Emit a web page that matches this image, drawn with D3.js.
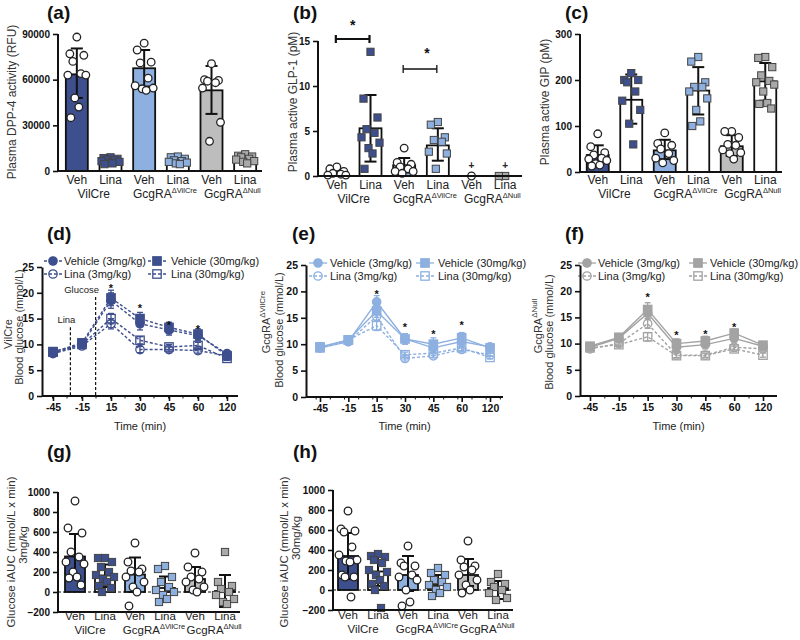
<!DOCTYPE html>
<html>
<head>
<meta charset="utf-8">
<script src="https://cdn.jsdelivr.net/npm/d3@7"></script>
<style>
body { margin: 0; background: #fff; }
text { font-family: Arial, "Liberation Sans", sans-serif; fill: #222; }
</style>
</head>
<body>
<script>
// ---- shared categories ----
var catLabels = ["Veh", "Lina", "Veh", "Lina", "Veh", "Lina"];
var groupBase = ["VilCre", "GcgRA", "GcgRA"];
var groupSup = ["", "\u0394VilCre", "\u0394Null"];
var groupColors = ["#3e4f8e", "#8db0e0", "#bdbdbd"];
var timeLabels = ["-45", "-15", "15", "30", "45", "60", "120"];

// ---- (a) DPP-4 activity ----
var aMeans = [63500, 6500, 67500, 6500, 53000, 7500];
var aLow = [48000, 4500, 55500, 4500, 37500, 5500];
var aHigh = [80500, 8500, 79500, 8500, 69000, 9500];
var aPoints = [
  [88000, 77000, 76000, 72000, 64000, 63000, 63000, 48000, 42000, 35000],
  [9000, 8500, 8000, 7500, 7000, 6500, 6000, 5500, 5000, 4500],
  [84000, 79500, 71500, 71000, 61000, 56000, 54500, 54000, 53000],
  [9500, 9000, 8000, 7000, 6500, 6000, 5500, 5000, 4500],
  [70500, 60000, 59500, 59000, 58000, 54500, 32000, 19500],
  [11000, 10000, 9500, 9000, 8000, 7500, 6500, 6000, 5000]
];

// ---- (b) active GLP-1 ----
var bMeans = [0.4, 5.3, 1.2, 3.4, 0, 0];
var bLow = [0.1, 1.6, 0.4, 1.7, 0, 0];
var bHigh = [0.8, 9.0, 2.0, 5.3, 0, 0];
var bPoints = [
  [1.0, 0.8, 0.5, 0.3, 0.2, 0.1, 0.1],
  [13.8, 8.6, 6.5, 5.2, 4.8, 4.3, 3.7, 3.1, 2.5, 0.8],
  [3.1, 1.5, 1.3, 1.0, 0.8, 0.5, 0.5, 0.3],
  [6.0, 5.7, 4.3, 4.0, 3.8, 2.7, 2.5, 0.8],
  [0],
  [0, 0]
];

// ---- (c) active GIP ----
var cMeans = [37, 157, 47, 177, 56, 197];
var cLow = [18, 105, 28, 125, 35, 155];
var cHigh = [58, 212, 70, 228, 80, 237];
var cPoints = [
  [83, 55, 42, 37, 30, 28, 25, 18, 15, 13],
  [215, 200, 200, 195, 175, 155, 135, 105, 60],
  [85, 62, 58, 50, 40, 30, 25, 20],
  [250, 240, 195, 185, 185, 175, 160, 135, 110, 100],
  [88, 88, 75, 60, 58, 48, 42, 40, 28],
  [250, 248, 228, 210, 198, 195, 190, 175, 150, 148, 138]
];

// ---- (d) VilCre glucose ----
var dVeh3 = [8.3, 10.0, 18.5, 14.0, 12.8, 11.7, 8.2];
var dVeh3Err = [0.5, 0.6, 1.5, 1.2, 1.0, 0.9, 0.5];
var dVeh30 = [8.5, 10.3, 19.0, 15.0, 13.3, 12.0, 7.8];
var dVeh30Err = [0.5, 0.6, 1.5, 1.2, 1.0, 1.0, 0.5];
var dLina3 = [8.2, 9.7, 14.0, 9.0, 9.0, 8.8, 7.8];
var dLina3Err = [0.4, 0.5, 1.0, 0.6, 0.5, 0.5, 0.4];
var dLina30 = [8.6, 10.0, 15.0, 10.8, 9.5, 9.8, 7.3];
var dLina30Err = [0.4, 0.5, 1.0, 0.7, 0.5, 0.6, 0.4];
var dStars = [21.4, 17.4, 14.2, 13.4];

// ---- (e) GcgRA dVilCre glucose ----
var eVeh3 = [9.3, 10.5, 18.0, 11.0, 9.3, 10.5, 9.5];
var eVeh3Err = [0.4, 0.5, 1.2, 1.0, 0.9, 0.9, 0.4];
var eVeh30 = [9.5, 10.8, 16.3, 11.0, 10.0, 11.2, 9.3];
var eVeh30Err = [0.4, 0.5, 1.2, 1.0, 1.2, 1.0, 0.4];
var eLina3 = [9.3, 10.5, 15.3, 7.3, 7.8, 9.0, 8.0];
var eLina3Err = [0.3, 0.4, 0.8, 0.5, 0.4, 0.4, 0.3];
var eLina30 = [9.3, 10.8, 13.5, 8.0, 8.3, 9.3, 7.5];
var eLina30Err = [0.3, 0.4, 0.9, 0.5, 0.4, 0.5, 0.3];
var eStars = [19.8, 13.6, 12.4, 14.0];

// ---- (f) GcgRA dNull glucose ----
var fVeh3 = [9.3, 11.0, 15.8, 9.3, 9.8, 11.0, 9.5];
var fVeh3Err = [0.4, 0.5, 1.0, 0.8, 0.8, 0.7, 0.4];
var fVeh30 = [9.5, 11.2, 16.5, 10.0, 10.5, 12.0, 9.7];
var fVeh30Err = [0.4, 0.5, 1.3, 0.9, 0.9, 0.8, 0.4];
var fLina3 = [9.0, 10.0, 13.8, 7.8, 7.8, 9.3, 9.0];
var fLina3Err = [0.3, 0.4, 0.9, 0.5, 0.4, 0.5, 0.4];
var fLina30 = [9.2, 9.8, 11.3, 7.7, 7.7, 9.0, 7.8];
var fLina30Err = [0.3, 0.4, 0.8, 0.4, 0.4, 0.5, 0.4];
var fStars = [19.3, 12.0, 12.3, 13.6];

// ---- (g) iAUC 3mg/kg ----
var gMeans = [355, 165, 175, 40, 130, 10];
var gLow = [140, 50, 0, -60, 10, -150];
var gHigh = [580, 275, 345, 155, 250, 170];
var gPoints = [
  [910, 640, 590, 400, 350, 300, 280, 200, 150, 140, 70],
  [340, 340, 300, 250, 200, 170, 150, 130, 100, 60, 40, 0],
  [490, 300, 230, 210, 200, 150, 100, 50, 0, -140],
  [260, 230, 150, 100, 50, 20, 0, -30, -70, -100],
  [390, 250, 200, 150, 130, 100, 50, 20, 0],
  [400, 100, 60, 30, 0, -30, -70, -100, -120]
];

// ---- (h) iAUC 30mg/kg ----
var hMeans = [340, 185, 150, 50, 150, 20];
var hLow = [110, 40, -10, -40, 40, -90];
var hHigh = [570, 330, 340, 150, 310, 90];
var hPoints = [
  [790, 610, 590, 580, 430, 350, 300, 290, 280, 150, 130, 130, -70],
  [360, 340, 330, 300, 270, 200, 180, 150, 100, 60, 40, 0, -180],
  [440, 270, 240, 240, 150, 130, 100, 0, -120, -160],
  [220, 170, 150, 100, 80, 50, 30, 0, -30, -60],
  [490, 300, 240, 230, 200, 150, 100, 50, 0, -30],
  [160, 80, 60, 30, 0, -30, -80, -100]
];

var jitter = [0, -7, 7, -4, 4, -9, 9, -2, 2, -6, 6, -3, 3];

var svg = d3.select("body").append("svg")
    .attr("width", 800)
    .attr("height", 640);

function panelLabel(txt, x, y) {
  svg.append("text").attr("x", x).attr("y", y)
      .attr("font-size", 19).attr("font-weight", "bold")
      .style("fill", "#111").text(txt);
}

function rotTitle(x, y, txt, sup, size) {
  var t = svg.append("text")
      .attr("transform", "translate(" + x + "," + y + ") rotate(-90)")
      .attr("text-anchor", "middle")
      .attr("font-size", size || 12)
      .style("fill", "#333");
  t.append("tspan").text(txt);
  if (sup) t.append("tspan").attr("font-size", 8).attr("dy", -5).text(sup);
}

function styleAxis(ax, size) {
  ax.select(".domain").attr("stroke", "#111").attr("stroke-width", 2);
  ax.selectAll(".tick line").attr("stroke", "#111").attr("stroke-width", 1.6);
  ax.selectAll(".tick text").attr("font-size", size || 10).attr("font-weight", "bold")
      .style("fill", "#111").attr("font-family", "Arial, 'Liberation Sans', sans-serif");
}

/**
 * Bar chart with scatter points and SD error bars.
 */
function drawBarPanel(p) {
  var g = svg.append("g");
  var x = d3.scaleBand().domain(d3.range(6)).range([p.x0, p.x1]);
  var y = d3.scaleLinear().domain(p.domain).range([p.yBot, p.yTop]);
  var cx = function(i) { return x(i) + x.bandwidth() / 2; };
  var base = y(0);
  var bw = p.barW;

  // bars (empty groups get no outline)
  g.selectAll(".bar").data(p.means).enter()
      .append("rect")
      .attr("x", function(d, i) { return cx(i) - bw / 2; })
      .attr("y", function(d) { return Math.min(y(d), base); })
      .attr("width", bw)
      .attr("height", function(d) { return Math.abs(base - y(d)); })
      .attr("fill", function(d, i) { return i % 2 == 0 ? groupColors[i >> 1] : "#fff"; })
      .attr("stroke", function(d) { return d === 0 ? "none" : "#111"; })
      .attr("stroke-width", 1.8);

  // zero reference line (iAUC panels)
  if (p.zeroDash) {
    g.append("line")
        .attr("x1", p.axisX).attr("x2", p.x1)
        .attr("y1", base).attr("y2", base)
        .attr("stroke", "#111").attr("stroke-width", 1)
        .attr("stroke-dasharray", "3,2");
  }

  // error bars
  for (var i = 0; i < 6; i++) {
    if (p.lo[i] == p.hi[i]) continue;
    var c = cx(i);
    g.append("line").attr("x1", c).attr("x2", c)
        .attr("y1", y(p.lo[i])).attr("y2", y(p.hi[i]))
        .attr("stroke", "#111").attr("stroke-width", 2);
    [p.lo[i], p.hi[i]].forEach(function(v) {
      g.append("line").attr("x1", c - 6).attr("x2", c + 6)
          .attr("y1", y(v)).attr("y2", y(v))
          .attr("stroke", "#111").attr("stroke-width", 2);
    });
  }

  // points
  p.points.forEach(function(vals, i) {
    var isVeh = i % 2 == 0;
    var pts = g.selectAll(".pt" + i).data(vals).enter();
    if (isVeh) {
      pts.append("circle")
          .attr("cx", function(d, j) { return cx(i) + jitter[j % jitter.length]; })
          .attr("cy", function(d) { return y(d); })
          .attr("r", 3.8)
          .attr("fill", "#fff").attr("stroke", "#222").attr("stroke-width", 1.3);
    } else {
      pts.append("rect")
          .attr("x", function(d, j) { return cx(i) + jitter[j % jitter.length] * (vals.length < 3 ? 0.9 : 1) - 3.6; })
          .attr("y", function(d) { return y(d) - 3.6; })
          .attr("width", 7.2).attr("height", 7.2)
          .attr("fill", i == 5 ? "#a9a9a9" : groupColors[i >> 1])
          .attr("stroke", "#444").attr("stroke-width", 1);
    }
  });

  // y axis
  var ay = svg.append("g").attr("transform", "translate(" + p.axisX + ",0)")
      .call(d3.axisLeft(y).tickValues(p.ticks).tickSize(5).tickSizeOuter(0).tickFormat(d3.format("d")));
  styleAxis(ay, 10);
  ay.select(".domain").attr("d", "M0," + y(p.domain[0]) + "V" + y(p.domain[1]));

  // x axis line
  var xl = p.zeroDash ? y(p.domain[0]) : base;
  g.append("line").attr("x1", p.axisX).attr("x2", p.x1)
      .attr("y1", xl).attr("y2", xl)
      .attr("stroke", "#111").attr("stroke-width", 2);

  // category labels
  catLabels.forEach(function(c, i) {
    g.append("text").attr("x", cx(i)).attr("y", p.catY)
        .attr("text-anchor", "middle").attr("font-size", p.catSize).text(c);
  });
  groupBase.forEach(function(b, k) {
    var t = g.append("text").attr("x", (cx(2 * k) + cx(2 * k + 1)) / 2 + (groupSup[k] ? 4 : 0))
        .attr("y", p.groupY)
        .attr("text-anchor", "middle").attr("font-size", p.catSize);
    t.append("tspan").text(b);
    if (groupSup[k]) t.append("tspan").attr("font-size", 7.5).attr("dy", -5).text(groupSup[k]);
  });

  return { x: cx, y: y };
}

/**
 * Glucose tolerance curves with 4 groups.
 */
function drawLinePanel(p) {
  var g = svg.append("g");
  var x = d3.scalePoint().domain(timeLabels).range([p.x0, p.x1]);
  var y = d3.scaleLinear().domain([0, 25]).range([p.yBot, p.yTop]);
  var step = x.step();

  // minor x ticks
  for (var v = p.axisX + step / 2 - 4; v < p.xEnd; v += step / 2) {
    g.append("line").attr("x1", v).attr("x2", v).attr("y1", y(0)).attr("y2", y(0) + 2.5)
        .attr("stroke", "#111").attr("stroke-width", 1);
  }

  var ay = svg.append("g").attr("transform", "translate(" + p.axisX + ",0)")
      .call(d3.axisLeft(y).tickValues([0, 5, 10, 15, 20, 25]).tickSize(5).tickSizeOuter(0));
  styleAxis(ay, 10.5);
  var ax = svg.append("g").attr("transform", "translate(0," + y(0) + ")")
      .call(d3.axisBottom(x).tickSize(5).tickSizeOuter(0));
  styleAxis(ax, 10.5);
  ax.select(".domain").attr("d", "M" + p.axisX + ",0H" + p.xEnd);

  // treatment markers (panel d only)
  if (p.events) {
    p.events.forEach(function(ev) {
      var a = x(ev.between[0]), b = x(ev.between[1]);
      var ex = a + (b - a) * ev.frac;
      g.append("line").attr("x1", ex).attr("x2", ex)
          .attr("y1", y(ev.top)).attr("y2", y(0))
          .attr("stroke", "#111").attr("stroke-width", 1.2)
          .attr("stroke-dasharray", "3,2");
      g.append("text").attr("x", ex + ev.dx).attr("y", y(ev.top) - 4)
          .attr("text-anchor", "middle").attr("font-size", 9.5).text(ev.name);
    });
  }

  var line = d3.line().x(function(d, i) { return x(timeLabels[i]); }).y(function(d) { return y(d); });

  p.series.forEach(function(s) {
    g.append("path").datum(s.vals).attr("d", line)
        .attr("fill", "none").attr("stroke", p.color).attr("stroke-width", 1.4)
        .attr("stroke-dasharray", s.dashed ? "3,2" : null);
    s.vals.forEach(function(v, i) {
      var px = x(timeLabels[i]);
      g.append("line").attr("x1", px).attr("x2", px)
          .attr("y1", y(v - s.err[i])).attr("y2", y(v + s.err[i]))
          .attr("stroke", p.color).attr("stroke-width", 1.3);
      [v - s.err[i], v + s.err[i]].forEach(function(e) {
        g.append("line").attr("x1", px - 3).attr("x2", px + 3).attr("y1", y(e)).attr("y2", y(e))
            .attr("stroke", p.color).attr("stroke-width", 1.3);
      });
    });
    s.vals.forEach(function(v, i) {
      drawMarker(g, x(timeLabels[i]), y(v), s, p.color);
    });
  });

  // stars
  ["15", "30", "45", "60"].forEach(function(t, i) {
    g.append("text").attr("x", x(t)).attr("y", y(p.stars[i]) + 6)
        .attr("text-anchor", "middle").attr("font-size", 11).attr("font-weight", "bold")
        .style("fill", "#111").text("*");
  });

  // legend
  p.series.forEach(function(s, k) {
    var lx = p.legend.mx[k >> 1], ly = p.legend.rows[k % 2];
    var tx = p.legend.tx[k >> 1];
    g.append("line").attr("x1", lx - 9).attr("x2", lx + 9).attr("y1", ly).attr("y2", ly)
        .attr("stroke", p.color).attr("stroke-width", 1.3)
        .attr("stroke-dasharray", s.dashed ? "3,2" : null);
    drawMarker(g, lx, ly, s, p.color);
    g.append("text").attr("x", tx).attr("y", ly + 4).attr("font-size", 11).text(s.name);
  });

  svg.append("text").attr("x", (p.axisX + p.xEnd) / 2).attr("y", 430)
      .attr("text-anchor", "middle").attr("font-size", 11).text("Time (min)");
}

function drawMarker(g, mx, my, s, color) {
  if (s.marker == "circle") {
    g.append("circle").attr("cx", mx).attr("cy", my).attr("r", 4.2)
        .attr("fill", s.filled ? color : "none").attr("stroke", color).attr("stroke-width", 1.3);
  } else {
    g.append("rect").attr("x", mx - 4.2).attr("y", my - 4.2).attr("width", 8.4).attr("height", 8.4)
        .attr("fill", s.filled ? color : "none").attr("stroke", color).attr("stroke-width", 1.3);
  }
}

function seriesSet(v3, v3e, v30, v30e, l3, l3e, l30, l30e, vehDashed) {
  return [
    { name: "Vehicle (3mg/kg)", vals: v3, err: v3e, marker: "circle", filled: true, dashed: vehDashed },
    { name: "Lina (3mg/kg)", vals: l3, err: l3e, marker: "circle", filled: false, dashed: true },
    { name: "Vehicle (30mg/kg)", vals: v30, err: v30e, marker: "square", filled: true, dashed: vehDashed },
    { name: "Lina (30mg/kg)", vals: l30, err: l30e, marker: "square", filled: false, dashed: true }
  ];
}

// ===== Row 1 =====
panelLabel("(a)", 47, 19);
drawBarPanel({ axisX: 58, x0: 60, x1: 262, yTop: 34, yBot: 171, domain: [0, 90000],
  ticks: [0, 30000, 60000, 90000], means: aMeans, lo: aLow, hi: aHigh, points: aPoints,
  barW: 22, catY: 184, groupY: 198, catSize: 12 });
rotTitle(16, 102, "Plasma DPP-4 activity (RFU)", null, 12);

panelLabel("(b)", 293, 19);
var bp = drawBarPanel({ axisX: 318, x0: 320, x1: 522, yTop: 41, yBot: 176, domain: [0, 15],
  ticks: [0, 5, 10, 15], means: bMeans, lo: bLow, hi: bHigh, points: bPoints,
  barW: 22, catY: 189, groupY: 203, catSize: 12 });
rotTitle(297, 102, "Plasma active GLP-1 (pM)", null, 12);
// significance brackets
[[0, 1, 39, 24, 2.2, 0], [2, 3, 69, 52, 1.3, 7]].forEach(function(b) {
  var x1 = bp.x(b[0]) - 1, x2 = bp.x(b[1]) - 1;
  svg.append("line").attr("x1", x1).attr("x2", x2).attr("y1", b[2]).attr("y2", b[2])
      .attr("stroke", "#111").attr("stroke-width", b[4]);
  [x1, x2].forEach(function(xx) {
    svg.append("line").attr("x1", xx).attr("x2", xx).attr("y1", b[2] - 4).attr("y2", b[2] + 4)
        .attr("stroke", "#111").attr("stroke-width", b[4]);
  });
  svg.append("text").attr("x", (x1 + x2) / 2 + b[5]).attr("y", b[3] + 6)
      .attr("text-anchor", "middle").attr("font-size", 14).attr("font-weight", "bold")
      .style("fill", "#111").text("*");
});
[4, 5].forEach(function(i) {
  svg.append("text").attr("x", bp.x(i)).attr("y", 169).attr("text-anchor", "middle")
      .attr("font-size", 10).attr("font-weight", "bold").text("+");
});

panelLabel("(c)", 565, 19);
drawBarPanel({ axisX: 580, x0: 581, x1: 782, yTop: 34, yBot: 172, domain: [0, 300],
  ticks: [0, 100, 200, 300], means: cMeans, lo: cLow, hi: cHigh, points: cPoints,
  barW: 22, catY: 184, groupY: 198, catSize: 12 });
rotTitle(549, 102, "Plasma active GIP (pM)", null, 12);

// ===== Row 2 =====
panelLabel("(d)", 47, 240);
drawLinePanel({ axisX: 42, x0: 53, x1: 227, xEnd: 238, yTop: 267, yBot: 396, color: "#3e4f8e",
  series: seriesSet(dVeh3, dVeh3Err, dVeh30, dVeh30Err, dLina3, dLina3Err, dLina30, dLina30Err, true),
  stars: dStars,
  legend: { mx: [53, 157], tx: [64, 171], rows: [261, 274] },
  events: [{ name: "Lina", between: ["-45", "-15"], frac: 0.6, top: 13.3, dx: -4 },
           { name: "Glucose", between: ["-15", "15"], frac: 0.47, top: 19.2, dx: -14 }] });
rotTitle(12, 334, "VilCre", null, 11);
rotTitle(23, 327, "Blood glucose (mmol/L)", null, 11);

panelLabel("(e)", 292, 240);
drawLinePanel({ axisX: 306, x0: 320, x1: 490, xEnd: 503, yTop: 265, yBot: 397, color: "#8db0e0",
  series: seriesSet(eVeh3, eVeh3Err, eVeh30, eVeh30Err, eLina3, eLina3Err, eLina30, eLina30Err, false),
  stars: eStars,
  legend: { mx: [318, 425], tx: [330, 438], rows: [263, 276] } });
rotTitle(270, 322, "GcgRA", "\u0394VilCre", 11);
rotTitle(283, 330, "Blood glucose (mmol/L)", null, 11);

panelLabel("(f)", 565, 240);
drawLinePanel({ axisX: 580, x0: 590, x1: 763, xEnd: 777, yTop: 265, yBot: 396, color: "#a3a3a3",
  series: seriesSet(fVeh3, fVeh3Err, fVeh30, fVeh30Err, fLina3, fLina3Err, fLina30, fLina30Err, false),
  stars: fStars,
  legend: { mx: [587, 698], tx: [598, 710], rows: [263, 276] } });
rotTitle(542, 326, "GcgRA", "\u0394Null", 11);
rotTitle(553, 332, "Blood glucose (mmol/L)", null, 11);

// ===== Row 3 =====
panelLabel("(g)", 47, 458);
drawBarPanel({ axisX: 58, x0: 60, x1: 240, yTop: 492, yBot: 612, domain: [-200, 1000],
  ticks: [-200, 0, 200, 400, 600, 800, 1000], means: gMeans, lo: gLow, hi: gHigh, points: gPoints,
  barW: 20, catY: 620, groupY: 634, catSize: 11.5, zeroDash: true });
rotTitle(15, 552, "Glucose iAUC (mmol/L x min)", null, 11.5);
rotTitle(27, 545, "3mg/kg", null, 11.5);

panelLabel("(h)", 293, 458);
drawBarPanel({ axisX: 333, x0: 333, x1: 513, yTop: 490, yBot: 610, domain: [-200, 1000],
  ticks: [-200, 0, 200, 400, 600, 800, 1000], means: hMeans, lo: hLow, hi: hHigh, points: hPoints,
  barW: 20, catY: 619, groupY: 633, catSize: 11.5, zeroDash: true });
rotTitle(288, 552, "Glucose iAUC (mmol/L x min)", null, 11.5);
rotTitle(300, 538, "30mg/kg", null, 11.5);
</script>
</body>
</html>
